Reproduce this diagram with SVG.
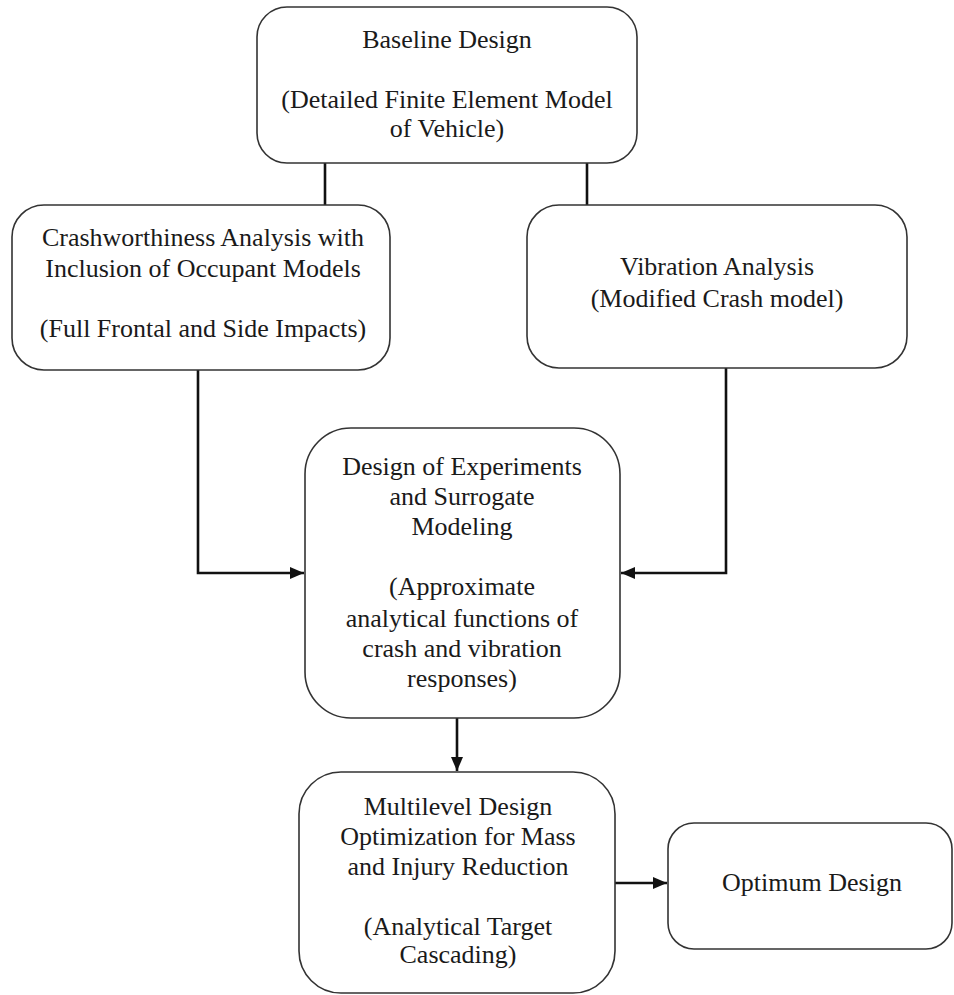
<svg xmlns="http://www.w3.org/2000/svg" width="954" height="995" viewBox="0 0 954 995">
<defs>
<style>
.box{fill:#fff;stroke:#333;stroke-width:1.6}
.t{font-family:"Liberation Serif","Times New Roman",serif;font-size:26px;fill:#1a1a1a;text-anchor:middle}
.c{fill:none;stroke:#111;stroke-width:2.6}
</style>
<marker id="ah" markerUnits="userSpaceOnUse" markerWidth="16" markerHeight="14" refX="14" refY="7" orient="auto">
<path d="M0,1 L14,7 L0,13 Z" fill="#111"/>
</marker>
</defs>
<rect width="954" height="995" fill="#fff"/>
<g id="connectors">
<path class="c" d="M325,163 V205"/>
<path class="c" d="M587,163 V205"/>
<path class="c" d="M198,370 V573 H304" marker-end="url(#ah)"/>
<path class="c" d="M726,368 V573 H621" marker-end="url(#ah)"/>
<path class="c" d="M457,718 V771" marker-end="url(#ah)"/>
<path class="c" d="M615,883 H667" marker-end="url(#ah)"/>
</g>
<g id="baseline">
<rect class="box" x="257" y="7" width="380" height="156" rx="30"/>
<text class="t" x="447" y="48">Baseline Design</text>
<text class="t" x="447" y="108">(Detailed Finite Element Model</text>
<text class="t" x="447" y="137">of Vehicle)</text>
</g>
<g id="crash">
<rect class="box" x="12" y="205" width="378" height="165" rx="32"/>
<text class="t" x="203" y="246">Crashworthiness Analysis with</text>
<text class="t" x="203" y="277">Inclusion of Occupant Models</text>
<text class="t" x="203" y="337">(Full Frontal and Side Impacts)</text>
</g>
<g id="vibration">
<rect class="box" x="527" y="205" width="380" height="163" rx="32"/>
<text class="t" x="717" y="275">Vibration Analysis</text>
<text class="t" x="717" y="307">(Modified Crash model)</text>
</g>
<g id="doe">
<rect class="box" x="305" y="428" width="315" height="290" rx="46"/>
<text class="t" x="462" y="475">Design of Experiments</text>
<text class="t" x="462" y="505">and Surrogate</text>
<text class="t" x="462" y="535">Modeling</text>
<text class="t" x="462" y="595">(Approximate</text>
<text class="t" x="462" y="627">analytical functions of</text>
<text class="t" x="462" y="657">crash and vibration</text>
<text class="t" x="462" y="687">responses)</text>
</g>
<g id="multilevel">
<rect class="box" x="299" y="772" width="316" height="221" rx="42"/>
<text class="t" x="458" y="815">Multilevel Design</text>
<text class="t" x="458" y="845">Optimization for Mass</text>
<text class="t" x="458" y="875">and Injury Reduction</text>
<text class="t" x="458" y="935">(Analytical Target</text>
<text class="t" x="458" y="963">Cascading)</text>
</g>
<g id="optimum">
<rect class="box" x="668" y="823" width="284" height="126" rx="26"/>
<text class="t" x="812" y="891">Optimum Design</text>
</g>
</svg>
